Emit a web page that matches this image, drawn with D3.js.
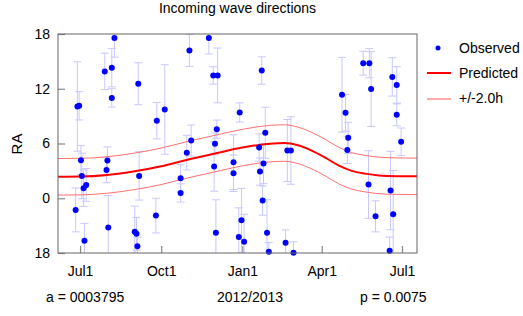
<!DOCTYPE html>
<html>
<head>
<meta charset="utf-8">
<script src="https://cdn.jsdelivr.net/npm/d3@7"></script>
<style>
  body { margin: 0; background: #fff; }
  svg { display: block; font-family: "Liberation Sans", Arial, sans-serif; }
</style>
</head>
<body>
<div id="chart"></div>
<script>
const width = 523;
const height = 316;

// observed wave directions: date, RA (hours), error (hours)
const obsDates = [
    "2012-06-26", "2012-06-28", "2012-06-30", "2012-07-02", "2012-07-03", "2012-07-05", "2012-07-06", "2012-07-08",
    "2012-07-29", "2012-07-31", "2012-08-01", "2012-08-02", "2012-08-06", "2012-08-06", "2012-08-09",
    "2012-09-01", "2012-09-03", "2012-09-04", "2012-09-05", "2012-09-06", "2012-09-25", "2012-09-26",
    "2012-10-05", "2012-10-23", "2012-10-23", "2012-10-30", "2012-11-02", "2012-11-04", "2012-11-24",
    "2012-11-29", "2012-11-30", "2012-12-01", "2012-12-02", "2012-12-03", "2012-12-04", "2012-12-22",
    "2012-12-22", "2012-12-28", "2012-12-29", "2012-12-31", "2013-01-03", "2013-01-20", "2013-01-21",
    "2013-01-23", "2013-01-24", "2013-01-25", "2013-01-27", "2013-01-29", "2013-01-31", "2013-02-19",
    "2013-02-21", "2013-02-25", "2013-02-28", "2013-04-24", "2013-04-28", "2013-04-30", "2013-05-01",
    "2013-05-18", "2013-05-24", "2013-05-25", "2013-05-27", "2013-06-01", "2013-06-17", "2013-06-18",
    "2013-06-20", "2013-06-21", "2013-06-25", "2013-06-25", "2013-06-30"
];
const obsRA = [
    22.72, 10.05, 10.13, 4.17, 2.45, 1.1, 19.35, 1.46,
    13.9, 3.1, 4.13, 20.8, 11.0, 14.3, 17.56,
    20.34, 20.1, 18.73, 12.55, 2.45, 22.1, 8.5,
    9.73, 2.19, 0.58, 5.0, 16.2, 6.32, 17.56,
    13.46, 3.47, 5.96, 20.23, 7.57, 13.46, 3.95,
    2.74, 19.75, 9.4, 21.58, 19.24, 5.56, 2.92,
    14.0, 23.74, 3.8, 7.17, 20.23, 18.14, 19.13,
    5.23, 5.23, 18.03, 11.34, 9.36, 5.3, 6.62,
    14.8, 1.5, 14.8, 11.96, 22.02, 18.25, 0.84,
    13.3, 22.24, 12.42, 9.14, 6.2
];
const obsErr = [
    2.4, 4.9, 1.55, 1.6, 2.5, 2.0, 1.9, 1.8,
    2.0, 1.4, 1.5, 3.5, 1.0, 2.1, 2.1,
    2.8, 1.8, 1.0, 2.3, 2.65, 1.9, 2.0,
    4.9, 1.5, 1.0, 1.9, 1.75, 1.7, 1.75,
    0.95, 2.7, 1.2, 3.6, 1.0, 3.0, 3.0,
    2.0, 3.2, 1.05, 3.5, 3.0, 1.5, 1.5,
    1.5, 1.6, 2.2, 2.8, 3.6, 1.0, 1.4,
    3.4, 3.7, 1.2, 4.1, 2.0, 1.5, 1.7,
    1.3, 3.7, 1.6, 4.1, 1.7, 1.5, 4.3,
    2.1, 4.8, 2.0, 1.2, 1.5
];

// predicted curve
const predDates = [
    "2012-06-06", "2012-07-01", "2012-08-01", "2012-09-01", "2012-10-01", "2012-11-01", "2012-12-01",
    "2013-01-01", "2013-02-01", "2013-02-18", "2013-03-05", "2013-03-20", "2013-04-05", "2013-04-20",
    "2013-05-05", "2013-05-20", "2013-06-05", "2013-06-25", "2013-07-18"
];
const predRA = [
    2.35, 2.37, 2.55, 2.95, 3.5, 4.25, 4.9,
    5.55, 5.98, 6.05, 5.8, 5.25, 4.45, 3.6,
    3.0, 2.7, 2.5, 2.42, 2.4
];
const band = 2.0;

const yTicks = [-6, 0, 6, 12, 18];
const legendLabels = ["Observed", "Predicted", "+/-" + band.toFixed(1) + "h"];

const margin = { left: 58, right: 106, top: 34, bottom: 63 };

const svg = d3.select("#chart")
    .append("svg")
    .attr("width", width)
    .attr("height", height);

const x = d3.scaleUtc()
    .domain([new Date("2012-06-06"), new Date("2013-07-18")])
    .range([margin.left, width - margin.right]);

const y = d3.scaleLinear()
    .domain([-6, 18])
    .range([height - margin.bottom, margin.top]);

// RA above 18h is drawn below zero
const wrap = (ra) => ra > 18 ? ra - 24 : ra;

const obs = obsDates.map((d, i) => ({ date: new Date(d), ra: wrap(obsRA[i]), err: obsErr[i] }));
const pred = predDates.map((d, i) => ({ date: new Date(d), ra: predRA[i] }));

svg.append("clipPath")
    .attr("id", "plot-clip")
    .append("rect")
    .attr("x", margin.left)
    .attr("y", margin.top)
    .attr("width", width - margin.left - margin.right)
    .attr("height", height - margin.top - margin.bottom);

// axes, ticks pointing inward
const xAxis = svg.append("g")
    .attr("transform", `translate(0,${height - margin.bottom})`)
    .call(d3.axisBottom(x)
        .ticks(d3.utcMonth.every(3))
        .tickFormat(d3.utcFormat("%b%-d"))
        .tickSize(-7)
        .tickPadding(13));

const yAxis = svg.append("g")
    .attr("transform", `translate(${margin.left},0)`)
    .call(d3.axisLeft(y)
        .tickValues(yTicks)
        .tickFormat((v) => (v + 24) % 24)
        .tickSize(-7)
        .tickPadding(8));

[xAxis, yAxis].forEach((g) => {
    g.select(".domain").remove();
    g.selectAll(".tick line").attr("stroke", "#888").attr("stroke-width", 1.2);
    g.selectAll(".tick text")
        .attr("fill", "#000")
        .style("font-size", "14px")
        .style("font-family", "Liberation Sans, Arial, sans-serif");
});

const plot = svg.append("g").attr("clip-path", "url(#plot-clip)");

// error bars
const capW = 4;
const bars = plot.selectAll("g.err")
    .data(obs)
    .enter()
    .append("g")
    .attr("class", "err")
    .attr("stroke", "#c8c8ff")
    .attr("stroke-width", 1);

bars.append("line")
    .attr("x1", (d) => x(d.date)).attr("x2", (d) => x(d.date))
    .attr("y1", (d) => y(d.ra - d.err)).attr("y2", (d) => y(d.ra + d.err));
bars.append("line")
    .attr("x1", (d) => x(d.date) - capW).attr("x2", (d) => x(d.date) + capW)
    .attr("y1", (d) => y(d.ra - d.err)).attr("y2", (d) => y(d.ra - d.err));
bars.append("line")
    .attr("x1", (d) => x(d.date) - capW).attr("x2", (d) => x(d.date) + capW)
    .attr("y1", (d) => y(d.ra + d.err)).attr("y2", (d) => y(d.ra + d.err));

// predicted curve and band
const line = (offset) => d3.line()
    .x((d) => x(d.date))
    .y((d) => y(d.ra + offset))
    .curve(d3.curveMonotoneX);

plot.append("path")
    .datum(pred)
    .attr("d", line(band))
    .attr("fill", "none")
    .attr("stroke", "#ff7070")
    .attr("stroke-width", 1);

plot.append("path")
    .datum(pred)
    .attr("d", line(-band))
    .attr("fill", "none")
    .attr("stroke", "#ff7070")
    .attr("stroke-width", 1);

plot.append("path")
    .datum(pred)
    .attr("d", line(0))
    .attr("fill", "none")
    .attr("stroke", "#ff0000")
    .attr("stroke-width", 2);

// observed points
svg.append("g")
    .selectAll("circle")
    .data(obs)
    .enter()
    .append("circle")
    .attr("cx", (d) => x(d.date))
    .attr("cy", (d) => y(d.ra))
    .attr("r", 3)
    .attr("fill", "#0000ff");

// frame
svg.append("rect")
    .attr("x", margin.left)
    .attr("y", margin.top)
    .attr("width", width - margin.left - margin.right)
    .attr("height", height - margin.top - margin.bottom)
    .attr("fill", "none")
    .attr("stroke", "#666")
    .attr("stroke-width", 1);

// texts
svg.append("text")
    .attr("x", (margin.left + width - margin.right) / 2)
    .attr("y", 13)
    .attr("text-anchor", "middle")
    .style("font-size", "14px")
    .text("Incoming wave directions");

svg.append("text")
    .attr("transform", "translate(22,144) rotate(-90)")
    .attr("text-anchor", "middle")
    .style("font-size", "15px")
    .text("RA");

svg.append("text").attr("x", 46).attr("y", 302).style("font-size", "14px").text("a = 0003795");
svg.append("text").attr("x", 250).attr("y", 302).attr("text-anchor", "middle").style("font-size", "14px").text("2012/2013");
svg.append("text").attr("x", 360).attr("y", 302).style("font-size", "14px").text("p = 0.0075");

// legend
const legend = svg.append("g");
legend.append("circle").attr("cx", 438).attr("cy", 48).attr("r", 2.5).attr("fill", "#0000ff");
legend.append("line").attr("x1", 427).attr("x2", 451).attr("y1", 73).attr("y2", 73)
    .attr("stroke", "#ff0000").attr("stroke-width", 2);
legend.append("line").attr("x1", 427).attr("x2", 451).attr("y1", 99).attr("y2", 99)
    .attr("stroke", "#ffaaaa").attr("stroke-width", 2);

legend.selectAll("text")
    .data(legendLabels)
    .enter()
    .append("text")
    .attr("x", 459)
    .attr("y", (d, i) => 53 + i * 25)
    .style("font-size", "14px")
    .text((d) => d);
</script>
</body>
</html>
